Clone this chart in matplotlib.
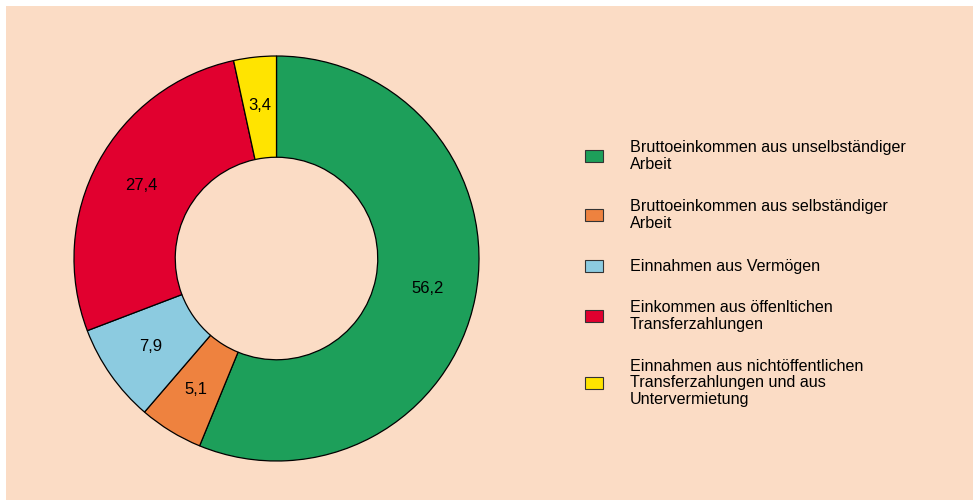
import numpy as np
import matplotlib.pyplot as plt
from matplotlib.patches import Rectangle

plt.rcParams['font.family'] = ['Liberation Sans', 'DejaVu Sans']

labels = ["Bruttoeinkommen aus unselbständiger\nArbeit",
          "Bruttoeinkommen aus selbständiger\nArbeit",
          "Einnahmen aus Vermögen",
          "Einkommen aus öffenltichen\nTransferzahlungen",
          "Einnahmen aus nichtöffentlichen\nTransferzahlungen und aus\nUntervermietung"]
values = [56.2, 5.1, 7.9, 27.4, 3.4]
value_text = ["56,2", "5,1", "7,9", "27,4", "3,4"]
colors = ["#1d9f5a", "#ee823f", "#8ccbe0", "#e1002f", "#ffe400"]
bg = "#fbdcc5"

fig = plt.figure(figsize=(9.73, 5.0), dpi=100)
fig.patch.set_facecolor("white")
fig.add_artist(Rectangle((6/973, 0), 1, 494/500, transform=fig.transFigure,
                         facecolor=bg, edgecolor="none", zorder=0))

ax = fig.add_axes([74/973, 39/500, 405/973, 405/500])
ax.set_facecolor("none")
wedges, _ = ax.pie(values, colors=colors, startangle=90, counterclock=False,
                   radius=1, wedgeprops=dict(width=0.5, edgecolor="black", linewidth=0.9))
for w, t in zip(wedges, value_text):
    ang = np.deg2rad((w.theta1 + w.theta2) / 2)
    ax.text(0.76*np.cos(ang), 0.76*np.sin(ang), t, ha="center", va="center", fontsize=12)
ax.set_xlim(-1, 1)
ax.set_ylim(-1, 1)
ax.set_aspect("equal")
ax.axis("off")

# legend, drawn by hand
ys = [156, 215, 266, 316, 383]
for y, lab, c in zip(ys, labels, colors):
    fig.add_artist(Rectangle((585/973, 1 - (y + 6)/500), 18/973, 12/500,
                             transform=fig.transFigure, facecolor=c,
                             edgecolor="#333333", linewidth=0.8))
    fig.text(630/973, 1 - y/500, lab, ha="left", va="center", fontsize=11.6,
             linespacing=1.12)

fig.savefig("out.png", dpi=100, facecolor=fig.get_facecolor())
